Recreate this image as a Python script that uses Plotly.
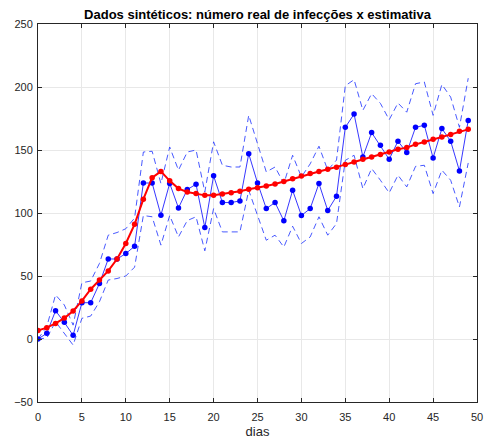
import plotly.graph_objects as go

dias = list(range(50))

real = [0, 4.5, 22.4, 13.2, 2.9, 28.8, 28.8, 44, 63.5, 63.5,
        67.8, 73.6, 123.8, 123.8, 98.3, 123.5, 104, 118.6, 122.8, 88.5,
        129.5, 108.3, 108.3, 109.6, 147, 123.9, 103.5, 108.3, 93.8, 118,
        98, 103.5, 123.4, 102, 113.3, 168, 178.5, 144.5, 163.8, 153.7,
        142.6, 157, 148, 168, 169.6, 143.7, 167, 157, 133.4, 173.5]

estimativa = [6.8, 9, 12.4, 16.6, 22.2, 30.2, 39.5, 46.8, 54, 63.5,
              75.8, 91, 111, 128, 133, 125.5, 119.4, 116.7, 115.4, 114,
              114, 115, 116, 117.3, 118.9, 120, 121.5, 123, 125, 127.2,
              129.4, 131.3, 132.9, 134.7, 136.3, 138.4, 140.5, 142.6, 144.5, 146.5,
              148.4, 150.6, 151.9, 154.5, 156.4, 158.5, 160.3, 162.4, 164.8, 166.4]

limite_sup = [0, 9.8, 35, 27, 11, 44.6, 46, 60, 82.4, 84.5,
              87.5, 96, 148.4, 149, 123.4, 152.4, 134, 148.4, 150, 116.7,
              156.5, 137.9, 136.5, 136.5, 177.5, 155, 132.6, 136.5, 123.4, 145.8,
              128.6, 139, 153, 134, 142, 201, 205.8, 181.5, 194.7, 187,
              174, 187.3, 180, 202.6, 204, 177.5, 202, 192, 168, 207]

limite_inf = [0, 0.8, 13.7, 4.7, -4.8, 16.4, 18.2, 29.6, 46.8, 48,
              50, 57, 98, 97, 74.5, 98, 81, 94, 97, 70,
              103.5, 85, 85, 85, 118, 98.3, 78.4, 82.4, 73, 89.5,
              75.8, 81, 97, 82.4, 91.7, 141.8, 145.8, 119.4, 135.3, 126,
              116, 130, 120.7, 137, 137.9, 115.4, 134, 126, 104.8, 139.7]

x_ticks = list(range(0, 51, 5))
y_ticks = list(range(-50, 251, 50))

titulo = "Dados sintéticos: número real de infecções x estimativa"
fonte = "Liberation Sans, Arial, Helvetica"

fig = go.Figure()
dash_style = dict(color="rgba(40,60,255,0.85)", width=1, dash="6px,4px")
fig.add_trace(go.Scatter(x=dias, y=limite_sup, mode="lines", line=dash_style,
                         showlegend=False, hoverinfo="skip"))
fig.add_trace(go.Scatter(x=dias, y=limite_inf, mode="lines", line=dash_style,
                         showlegend=False, hoverinfo="skip"))
fig.add_trace(go.Scatter(x=dias, y=real, mode="lines+markers",
                         line=dict(color="rgba(20,20,255,0.85)", width=1),
                         marker=dict(color="#0000ff", size=5.5, line=dict(width=0)),
                         showlegend=False))
fig.add_trace(go.Scatter(x=dias, y=estimativa, mode="lines+markers",
                         line=dict(color="#ff0000", width=2),
                         marker=dict(color="#ff0000", size=5.5, line=dict(width=0)),
                         showlegend=False))

axis_common = dict(showline=True, linecolor="#262626", linewidth=1, mirror="ticks",
                   ticks="inside", ticklen=4, tickcolor="#262626",
                   showgrid=True, gridcolor="#e8e8e8", gridwidth=1,
                   zeroline=False, tickfont=dict(family=fonte, size=11, color="#262626"))

fig.update_layout(
    width=490, height=443,
    margin=dict(l=38, r=7, t=24, b=41),
    paper_bgcolor="white", plot_bgcolor="white",
    title=dict(text="<b>" + titulo + "</b>", x=0.5, xanchor="center",
               xref="paper", yref="container", y=1 - 14.5 / 443, yanchor="middle",
               font=dict(family=fonte, size=13, color="black")),
    xaxis=dict(range=[0, 50], tickvals=x_ticks, ticklabelstandoff=5,
               title=dict(text="dias", standoff=4, font=dict(family=fonte, size=13, color="#262626")),
               **axis_common),
    yaxis=dict(range=[-50, 250], tickvals=y_ticks, ticklabelstandoff=2, **axis_common),
)

fig.write_html("out.html")
